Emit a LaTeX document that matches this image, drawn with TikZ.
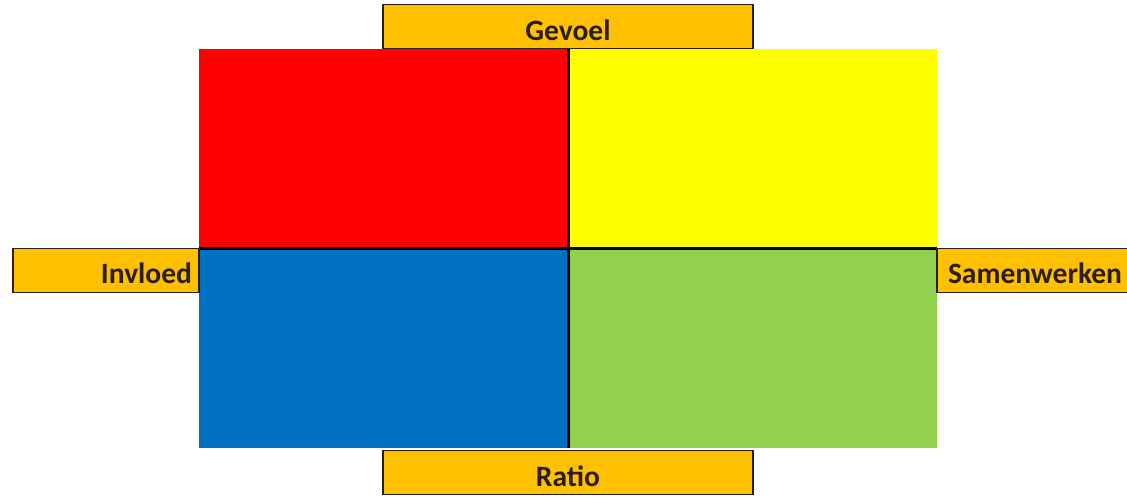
\documentclass[tikz,border=0pt]{standalone}
\usepackage{fontspec}
\setmainfont{Carlito}
\usetikzlibrary{positioning}
\definecolor{qred}{HTML}{FF0000}
\definecolor{qyellow}{HTML}{FFFF00}
\definecolor{qblue}{HTML}{0070C0}
\definecolor{qgreen}{HTML}{92D050}
\definecolor{qorange}{HTML}{FFC000}
\definecolor{qink}{HTML}{2B1E14}
\tikzset{
  qfield/.style={rectangle, minimum width=369pt, minimum height=199.5pt,
                 inner sep=0pt, outer sep=0pt},
  qdiv/.style={black, line width=3pt},
  qtag/.style={rectangle, draw=qink, fill=qorange, line width=1.3pt,
               minimum height=44pt, outer sep=0pt, text=qink,
               font=\fontsize{29.5}{34}\selectfont\bfseries,
               text height=27pt, text depth=0pt},
}

\begin{document}
\begin{tikzpicture}[x=1pt, y=-1pt]

  % kader van de figuur
  \useasboundingbox (0,0) rectangle (1127,496);

  % de vier kwadranten
  \node[qfield, fill=qred] (red) at (383.5,148.5) {};
  \node[qfield, fill=qyellow, right=0pt of red] (yellow) {};
  \node[qfield, fill=qblue, below=0pt of red] (blue) {};
  \node[qfield, fill=qgreen, right=0pt of blue] (green) {};

  % assen tussen de kwadranten
  \draw[qdiv] (red.north east) -- (blue.south east);
  \draw[qdiv] (red.south west) -- (yellow.south east);

  % labels op de assen
  \node[qtag, minimum width=370pt, anchor=south] (gevoel) at (red.north east) {Gevoel};
  \node[qtag, minimum width=370pt, anchor=north, yshift=-3pt] (ratio) at (blue.south east) {Ratio};
  \node[qtag, anchor=north east, text width=172pt, align=right, inner xsep=7pt]
      (invloed) at (blue.north west) {Invloed};
  \node[qtag, anchor=north west, text width=190pt, align=left, inner xsep=11pt]
      (samen) at (green.north east) {Samenwerken};

\end{tikzpicture}
\end{document}
